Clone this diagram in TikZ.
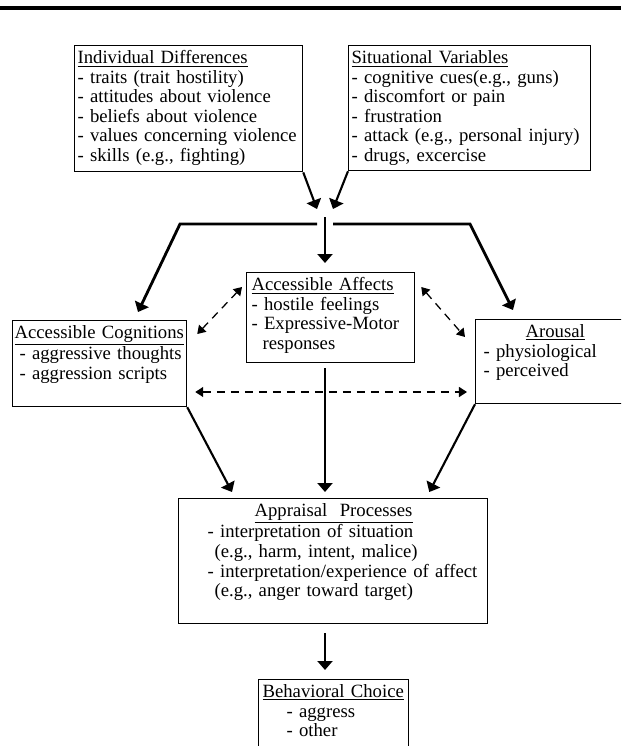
\documentclass[tikz,border=0pt]{standalone}
\usepackage{fontspec}
\setmainfont{Liberation Serif}
\usetikzlibrary{arrows.meta,calc}

\begin{document}
\begin{tikzpicture}[x=0.025cm,y=-0.025cm,
	box/.style={draw=black,line width=0.85pt,anchor=north west,align=left,inner ysep=0.125cm,inner xsep=0.075cm,font=\fontsize{13.3pt}{13.9pt}\selectfont},
	arr/.style={line width=1.5pt,-{Triangle[length=0.225cm,width=0.375cm]}},
	dasharr/.style={line width=0.9pt,dash pattern=on 0.2cm off 0.15cm,{Triangle[length=0.2cm,width=0.25cm]}-{Triangle[length=0.2cm,width=0.25cm]}}]
	\useasboundingbox (0,0) rectangle (621,746);
	\clip (0,0) rectangle (621,746);

	\draw[line width=2.2pt] (0,8) -- (621,8);

	\node[box,text width=5.55cm,text depth=2.575cm] (id) at (74,45) {\underline{Individual Differences}\\- traits (trait hostility)\\- attitudes about violence\\- beliefs about violence\\- values concerning violence\\- skills (e.g., fighting)};
	\node[box,text width=5.9cm,text depth=2.55cm] (sv) at (348,45) {\underline{Situational Variables}\\- cognitive cues(e.g., guns)\\- discomfort or pain\\- frustration\\- attack (e.g., personal injury)\\- drugs, excercise};
	\node[box,inner xsep=0.125cm,text width=3.95cm,text depth=1.675cm] (aa) at (246,272) {\underline{Accessible Affects}\\- hostile feelings\\- Expressive-Motor\\\hspace*{0.275cm}responses};
	\node[box,inner xsep=0.05cm,text width=4.25cm,text depth=1.575cm] (ac) at (12,320) {\underline{Accessible Cognitions}\\\hspace*{0.125cm}- aggressive thoughts\\\hspace*{0.125cm}- aggression scripts};
	\node[box,inner xsep=0.2cm,text width=3.6cm,text depth=1.525cm] (ar) at (475,319) {\hspace*{1.05cm}\underline{Arousal}\\- physiological\\- perceived};
	\node[box,text width=7.575cm,text depth=2.55cm] (ap) at (178,498) {\hspace*{1.825cm}\underline{Appraisal\ \ Processes}\\\hspace*{0.65cm}- interpretation of situation\\\hspace*{0.825cm}(e.g., harm, intent, malice)\\\hspace*{0.65cm}- interpretation/experience of affect\\\hspace*{0.825cm}(e.g., anger toward target)};
	\node[box,inner xsep=0.1cm,text width=3.55cm,text depth=1.675cm] (bc) at (258,679) {\underline{Behavioral Choice}\\\hspace*{0.6cm}- aggress\\\hspace*{0.6cm}- other};

	\coordinate (hub) at (325,217);
	\coordinate (inl) at (317,209);
	\coordinate (inr) at (333,209);
	\coordinate (jl) at (317,224);
	\coordinate (jlc) at (180,224);
	\coordinate (jr) at (333,224);
	\coordinate (jrc) at (470,224);

	\draw[arr] (id.south east) -- (inl);
	\draw[arr] (sv.south west) -- (inr);
	\draw[arr,line width=2pt] (jl) -- (jlc) -- ($(ac.north west)+(126,-8)$);
	\draw[arr,line width=2pt] (jr) -- (jrc) -- ($(ar.north west)+(38,-9)$);
	\draw[arr,shorten >=0.225cm] (hub) -- (hub |- aa.north);

	\draw[dasharr] ($(ac.north east)+(10,14)$) -- ($(aa.north west)+(-4,15)$);
	\draw[dasharr] ($(aa.north east)+(6,15)$) -- ($(ar.north west)+(-10,18)$);
	\draw[dasharr] ($(ac.north east)+(8,72)$) -- ($(ar.north west)+(-8,73)$);

	\draw[arr] (ac.south east) -- ($(ap.north west)+(54,-6)$);
	\draw[arr] (ar.south west) -- ($(ap.north east)+(-59,-6)$);
	\draw[arr,shorten <=0.125cm,shorten >=0.15cm] (hub |- aa.south) -- (hub |- ap.north);
	\draw[arr,shorten <=0.225cm,shorten >=0.225cm] (hub |- ap.south) -- (hub |- bc.north);
\end{tikzpicture}
\end{document}
